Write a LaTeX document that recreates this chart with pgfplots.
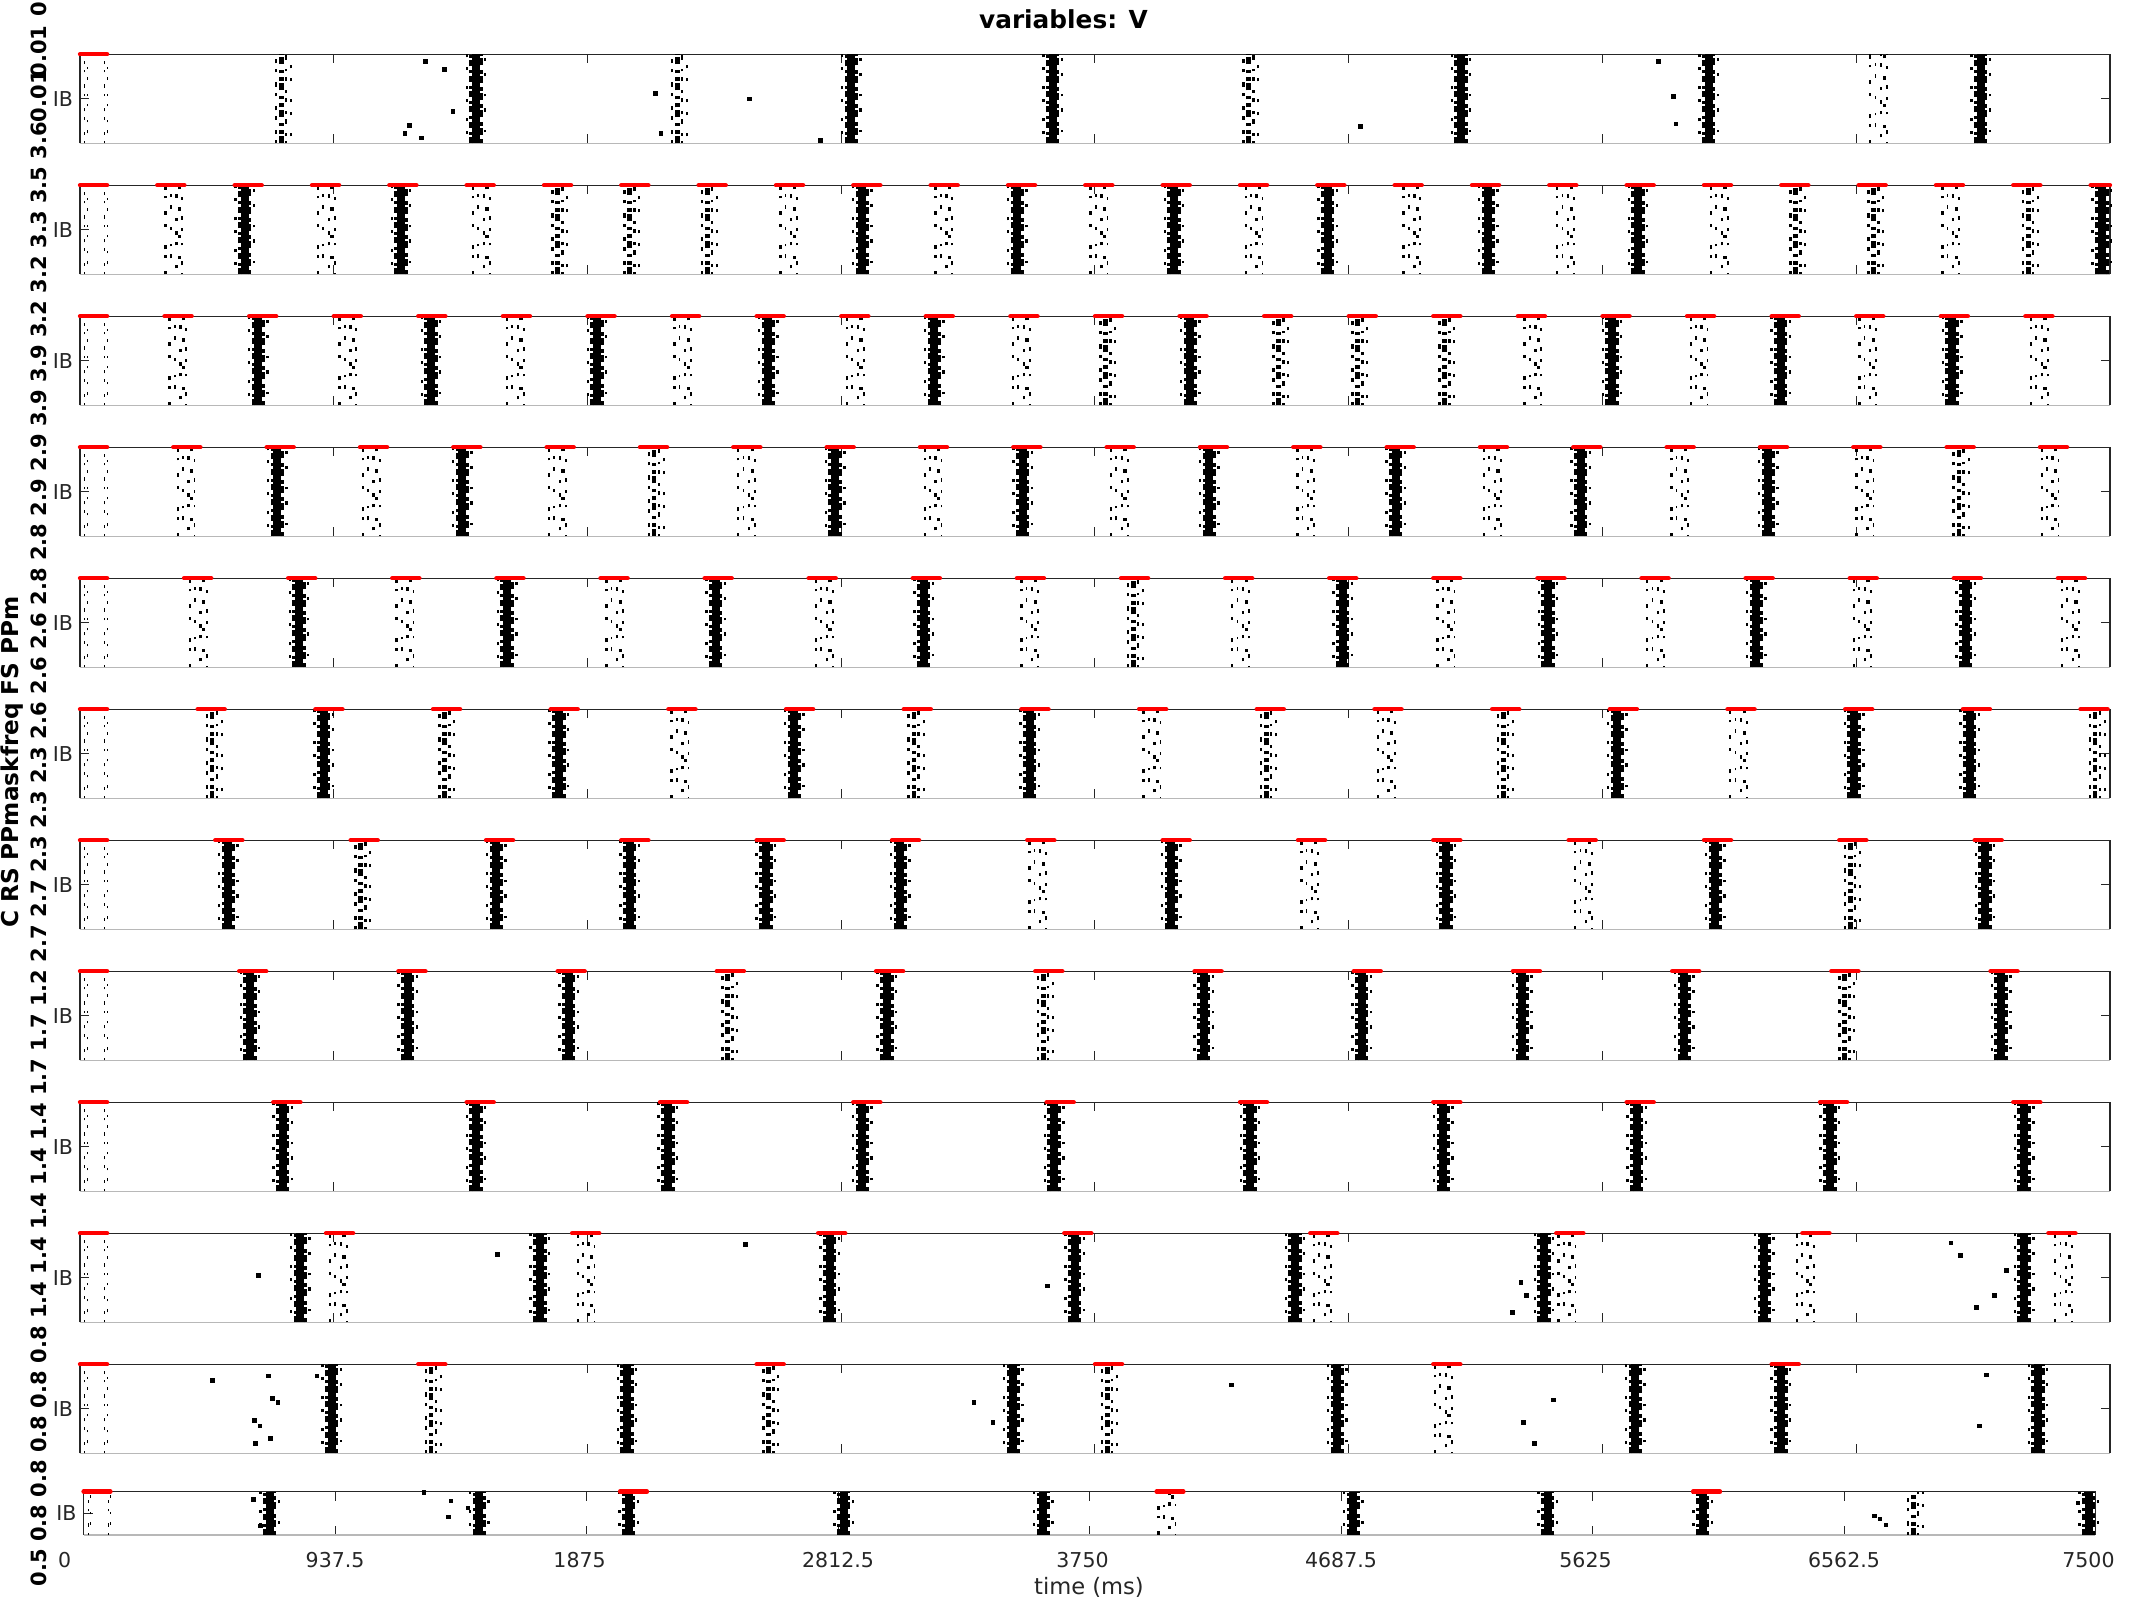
\documentclass[border=0pt]{standalone}
\usepackage{fontspec}
\setmainfont{DejaVu Sans}
\usepackage{pgfplots}
\usepackage{pgfplotstable}
\pgfplotsset{compat=1.18}
\definecolor{mgray}{RGB}{38,38,38}

% ---------- data (times in ms) ----------
\pgfplotstableread[row sep=\\]{t y\\18 1\\92 1\\}\Init
% panel 1
\pgfplotstableread[row sep=\\]{t y\\1463 1\\2850 1\\3594 1\\5102 1\\6017 1\\7022 1\\}\PaD
\pgfplotstableread[row sep=\\]{t y\\744 1\\2207 1\\4318 1\\}\PaM
\pgfplotstableread[row sep=\\]{t y\\6645 1\\}\PaS
\pgfplotstableread[row sep=\\]{t y\\1277 .92\\1347 .83\\1377 .36\\1217 .20\\1201 .11\\1262 .06\\2126 .56\\2146 .11\\2473 .50\\2735 .03\\4730 .19\\5831 .92\\5886 .53\\5896 .22\\}\PaX
\pgfplotstableread[row sep=\\]{t y\\50 1\\}\PaR
% panel 2
\pgfplotstableread[row sep=\\]{t y\\608 1\\1186 1\\2890 1\\3463 1\\4042 1\\4610 1\\5203 1\\5756 1\\7470 1\\}\PbD
\pgfplotstableread[row sep=\\]{t y\\1764 1\\2031 1\\2317 1\\6339 1\\6626 1\\7198 1\\}\PbM
\pgfplotstableread[row sep=\\]{t y\\347 1\\910 1\\1483 1\\2619 1\\3192 1\\3765 1\\4338 1\\4921 1\\5489 1\\6057 1\\6912 1\\}\PbS
\pgfplotstableread[row sep=\\]{t y\\50 1\\335.7 1\\621.4 1\\907.1 1\\1192.9 1\\1478.6 1\\1764.3 1\\2050 1\\2335.7 1\\2621.4 1\\2907.1 1\\3192.9 1\\3478.6 1\\3764.3 1\\4050 1\\4335.7 1\\4621.4 1\\4907.1 1\\5192.9 1\\5478.6 1\\5764.3 1\\6050 1\\6335.7 1\\6621.4 1\\6907.1 1\\7192.9 1\\}\PbR
\pgfplotstableread[row sep=\\]{t y\\7464.3 1\\}\PbRlast
% panel 3
\pgfplotstableread[row sep=\\]{t y\\659 1\\1297 1\\1910 1\\2543 1\\3157 1\\4102 1\\5660 1\\6283 1\\6917 1\\}\PcD
\pgfplotstableread[row sep=\\]{t y\\3790 1\\4429 1\\4720 1\\5042 1\\}\PcM
\pgfplotstableread[row sep=\\]{t y\\362 1\\990 1\\1609 1\\2227 1\\2865 1\\3478 1\\5368 1\\5982 1\\6605 1\\7239 1\\}\PcS
\pgfplotstableread[row sep=\\]{t y\\50 1\\362.5 1\\675 1\\987.5 1\\1300 1\\1612.5 1\\1925 1\\2237.5 1\\2550 1\\2862.5 1\\3175 1\\3487.5 1\\3800 1\\4112.5 1\\4425 1\\4737.5 1\\5050 1\\5362.5 1\\5675 1\\5987.5 1\\6300 1\\6612.5 1\\6925 1\\7237.5 1\\}\PcR
% panel 4
\pgfplotstableread[row sep=\\]{t y\\729 1\\1413 1\\2790 1\\3483 1\\4172 1\\4861 1\\5544 1\\6238 1\\}\PdD
\pgfplotstableread[row sep=\\]{t y\\2121 1\\6942 1\\}\PdM
\pgfplotstableread[row sep=\\]{t y\\392 1\\1076 1\\1764 1\\2463 1\\3152 1\\3840 1\\4529 1\\5218 1\\5911 1\\6595 1\\7279 1\\}\PdS
\pgfplotstableread[row sep=\\]{t y\\50 1\\394.8 1\\739.7 1\\1084.5 1\\1429.3 1\\1774.1 1\\2119 1\\2463.8 1\\2808.6 1\\3153.4 1\\3498.3 1\\3843.1 1\\4187.9 1\\4532.8 1\\4877.6 1\\5222.4 1\\5567.2 1\\5912.1 1\\6256.9 1\\6601.7 1\\6946.6 1\\7291.4 1\\}\PdR
% panel 5
\pgfplotstableread[row sep=\\]{t y\\809 1\\1578 1\\2348 1\\3117 1\\4665 1\\5424 1\\6193 1\\6967 1\\}\PeD
\pgfplotstableread[row sep=\\]{t y\\3891 1\\}\PeM
\pgfplotstableread[row sep=\\]{t y\\437 1\\1201 1\\1976 1\\2750 1\\3509 1\\4288 1\\5047 1\\5821 1\\6585 1\\7354 1\\}\PeS
\pgfplotstableread[row sep=\\]{t y\\50 1\\434.6 1\\819.2 1\\1203.8 1\\1588.5 1\\1973.1 1\\2357.7 1\\2742.3 1\\3126.9 1\\3511.5 1\\3896.2 1\\4280.8 1\\4665.4 1\\5050 1\\5434.6 1\\5819.2 1\\6203.8 1\\6588.5 1\\6973.1 1\\7357.7 1\\}\PeR
% panel 6
\pgfplotstableread[row sep=\\]{t y\\900 1\\1769 1\\2639 1\\3509 1\\5680 1\\6555 1\\6982 1\\}\PfD
\pgfplotstableread[row sep=\\]{t y\\488 1\\1347 1\\3081 1\\4383 1\\5258 1\\7445 1\\}\PfM
\pgfplotstableread[row sep=\\]{t y\\2217 1\\3961 1\\4826 1\\6128 1\\}\PfS
\pgfplotstableread[row sep=\\]{t y\\50 1\\484.8 1\\919.6 1\\1354.3 1\\1789.1 1\\2223.9 1\\2658.7 1\\3093.5 1\\3528.3 1\\3963 1\\4397.8 1\\4832.6 1\\5267.4 1\\5702.2 1\\6137 1\\6571.7 1\\7006.5 1\\7441.3 1\\}\PfR
% panel 7
\pgfplotstableread[row sep=\\]{t y\\548 1\\1538 1\\2031 1\\2534 1\\3031 1\\4032 1\\5047 1\\6042 1\\7038 1\\}\PgD
\pgfplotstableread[row sep=\\]{t y\\1036 1\\6540 1\\}\PgM
\pgfplotstableread[row sep=\\]{t y\\3539 1\\4544 1\\5555 1\\}\PgS
\pgfplotstableread[row sep=\\]{t y\\50 1\\550 1\\1050 1\\1550 1\\2050 1\\2550 1\\3050 1\\3550 1\\4050 1\\4550 1\\5050 1\\5550 1\\6050 1\\6550 1\\7050 1\\}\PgR
% panel 8
\pgfplotstableread[row sep=\\]{t y\\628 1\\1211 1\\1805 1\\2981 1\\4152 1\\4735 1\\5329 1\\5927 1\\7098 1\\}\PhD
\pgfplotstableread[row sep=\\]{t y\\2393 1\\3559 1\\6520 1\\}\PhM
\pgfplotstableread[row sep=\\]{t y\\50 1\\638.2 1\\1226.5 1\\1814.7 1\\2402.9 1\\2991.2 1\\3579.4 1\\4167.6 1\\4755.9 1\\5344.1 1\\5932.4 1\\6520.6 1\\7108.8 1\\}\PhR
% panel 9
\pgfplotstableread[row sep=\\]{t y\\749 1\\1463 1\\2172 1\\2890 1\\3599 1\\4323 1\\5037 1\\5751 1\\6465 1\\7183 1\\}\PiD
\pgfplotstableread[row sep=\\]{t y\\50 1\\764.3 1\\1478.6 1\\2192.9 1\\2907.1 1\\3621.4 1\\4335.7 1\\5050 1\\5764.3 1\\6478.6 1\\7192.9 1\\}\PiR
% panel 10
\pgfplotstableread[row sep=\\]{t y\\814 1\\1699 1\\2770 1\\3675 1\\4489 1\\5409 1\\6223 1\\7183 1\\}\PjD
\pgfplotstableread[row sep=\\]{t y\\955 1\\1870 1\\4590 1\\5494 1\\6374 1\\7329 1\\}\PjS
\pgfplotstableread[row sep=\\]{t y\\659 .53\\1542 .76\\2458 .875\\3574 .41\\5293 .11\\5344 .30\\5323 .45\\6912 .89\\6947 .75\\7073 .30\\7118 .58\\7007 .17\\}\PjX
\pgfplotstableread[row sep=\\]{t y\\50 1\\959.1 1\\1868.2 1\\2777.3 1\\3686.4 1\\4595.5 1\\5504.5 1\\6413.6 1\\7322.7 1\\}\PjR
% panel 11
\pgfplotstableread[row sep=\\]{t y\\930 1\\2021 1\\3448 1\\4645 1\\5746 1\\6284 1\\7234 1\\}\PkD
\pgfplotstableread[row sep=\\]{t y\\1297 1\\2544 1\\3795 1\\}\PkM
\pgfplotstableread[row sep=\\]{t y\\5037 1\\}\PkS
\pgfplotstableread[row sep=\\]{t y\\489 .82\\697 .87\\875 .87\\710 .62\\731 .57\\645 .37\\664 .31\\703 .17\\648 .11\\3303 .57\\3373 .35\\4253 .77\\5333 .35\\5444 .60\\5374 .11\\7043 .88\\7018 .31\\}\PkX
\pgfplotstableread[row sep=\\]{t y\\50 1\\1300 1\\2550 1\\3800 1\\5050 1\\6300 1\\}\PkR
% panel 12
\pgfplotstableread[row sep=\\]{t y\\694 1\\1475 1\\2032 1\\2833 1\\3578 1\\4733 1\\5458 1\\6036 1\\7475 1\\}\PlD
\pgfplotstableread[row sep=\\]{t y\\6821 1\\}\PlM
\pgfplotstableread[row sep=\\]{t y\\4039 1\\}\PlS
\pgfplotstableread[row sep=\\]{t y\\634 .82\\659 .21\\1369 .79\\1432 .63\\1361 .42\\1269 .98\\6676 .44\\6697 .37\\6719 .23\\7434 .74\\7465 .95\\}\PlX
\pgfplotstableread[row sep=\\]{t y\\50 1\\2050 1\\4050 1\\6050 1\\}\PlR

% ---------- drawing helpers ----------
\newcommand{\Frame}{%
  \draw[mgray, line width=0.6pt] (rel axis cs:0,0) -- (rel axis cs:0,1) -- (rel axis cs:1,1) -- (rel axis cs:1,0);
  \draw[black!28, line width=0.6pt] (rel axis cs:0,0) -- (rel axis cs:1,0);
}
\newcommand{\Initial}{%
  \addplot[ycomb, black, line width=0.5pt, dash pattern=on 1.2pt off 3pt on 1.6pt off 6pt] table {\Init};
  \addplot[ycomb, black, line width=0.5pt, xshift=1.2pt, dash pattern=on 1pt off 7pt on 1.4pt off 4pt, dash phase=3pt] table {\Init};
}
\newcommand{\Dense}[1]{%
  \addplot[ycomb, black, line width=4pt] table {#1};
  \addplot[ycomb, black, line width=1.5pt, xshift=-2.6pt, dash pattern=on 3pt off 1.2pt on 1.5pt off 2pt] table {#1};
  \addplot[ycomb, black, line width=1.5pt, xshift=2.6pt, dash pattern=on 2pt off 2.2pt on 3.5pt off 1pt] table {#1};
  \addplot[ycomb, black, line width=1.2pt, xshift=4.6pt, dash pattern=on 1.6pt off 6pt on 1.2pt off 9pt, dash phase=2pt] table {#1};
  \addplot[ycomb, black, line width=1.2pt, xshift=-4.6pt, dash pattern=on 1.6pt off 8pt on 1.4pt off 5pt, dash phase=5pt] table {#1};
}
\newcommand{\Medium}[1]{%
  \addplot[ycomb, black, line width=2.4pt, dash pattern=on 3.5pt off 1.2pt on 2pt off 2pt on 1.5pt off 3pt] table {#1};
  \addplot[ycomb, black, line width=1.3pt, xshift=-2.6pt, dash pattern=on 1.6pt off 3pt on 2.2pt off 5pt] table {#1};
  \addplot[ycomb, black, line width=1.3pt, xshift=2.4pt, dash pattern=on 2.2pt off 2.6pt on 1.4pt off 4.5pt, dash phase=1pt] table {#1};
  \addplot[ycomb, black, line width=1pt, xshift=4.8pt, dash pattern=on 1.5pt off 5pt on 1.5pt off 9pt, dash phase=3pt] table {#1};
}
\newcommand{\Sparse}[1]{%
  \addplot[ycomb, black, line width=1.2pt, xshift=-4.2pt, dash pattern=on 1.8pt off 6.5pt on 1.2pt off 3pt on 2.2pt off 9pt on 1.5pt off 4.5pt] table {#1};
  \addplot[ycomb, black, line width=0.8pt, xshift=-1.6pt, dash pattern=on 1.5pt off 9pt on 2pt off 4pt on 1.2pt off 7pt, dash phase=2.5pt] table {#1};
  \addplot[ycomb, black, line width=1.2pt, xshift=1.2pt, dash pattern=on 2pt off 5pt on 1.5pt off 10pt on 1.8pt off 3.5pt, dash phase=4pt] table {#1};
  \addplot[ycomb, black, line width=0.9pt, xshift=4.2pt, dash pattern=on 1.5pt off 4pt on 2pt off 8pt on 1.2pt off 6pt, dash phase=1pt] table {#1};
  \addplot[ycomb, black, line width=1.6pt, xshift=2.8pt, dash pattern=on 1.6pt off 12pt on 1.6pt off 9pt, dash phase=6pt] table {#1};
}
\newcommand{\Stray}[1]{%
  \addplot[only marks, mark=square*, mark size=0.9pt, black] table {#1};
}
\newcommand{\Red}[2]{%
  \addplot[only marks, mark=-, mark size=#2, mark options={draw=red, line width=2.2pt, line cap=round}] table {#1};
}

\pgfplotsset{
  rast/.style={
    scale only axis, anchor=north west, width=1015pt, height=44.5pt,
    xmin=0, xmax=7500, ymin=0, ymax=1, clip=false,
    xtick={0,937.5,1875,2812.5,3750,4687.5,5625,6562.5,7500},
    xticklabels={},
    ytick={0.5}, yticklabels={IB},
    tick align=inside, major tick length=4.5pt,
    tick style={mgray, line width=0.5pt},
    axis line style={draw=none},
    yticklabel style={font=\fontsize{10.25}{12}\selectfont, text=mgray},
    xticklabel style={font=\fontsize{10.25}{12}\selectfont, text=mgray},
  },
}

\begin{document}
\begin{tikzpicture}
\path[use as bounding box] (0,0) rectangle (1066.5pt,800pt);

% panel 1
\begin{axis}[rast, at={(40pt,772.85pt)}]
\Frame \Initial
\Dense{\PaD} \Medium{\PaM} \Sparse{\PaS} \Stray{\PaX}
\Red{\PaR}{6.77pt}
\end{axis}
% panel 2
\begin{axis}[rast, at={(40pt,707.35pt)}]
\Frame \Initial
\Dense{\PbD} \Medium{\PbM} \Sparse{\PbS}
\Red{\PbR}{6.77pt} \Red{\PbRlast}{4.84pt}
\end{axis}
% panel 3
\begin{axis}[rast, at={(40pt,641.85pt)}]
\Frame \Initial
\Dense{\PcD} \Medium{\PcM} \Sparse{\PcS}
\Red{\PcR}{6.77pt}
\end{axis}
% panel 4
\begin{axis}[rast, at={(40pt,576.35pt)}]
\Frame \Initial
\Dense{\PdD} \Medium{\PdM} \Sparse{\PdS}
\Red{\PdR}{6.77pt}
\end{axis}
% panel 5
\begin{axis}[rast, at={(40pt,510.85pt)}]
\Frame \Initial
\Dense{\PeD} \Medium{\PeM} \Sparse{\PeS}
\Red{\PeR}{6.77pt}
\end{axis}
% panel 6
\begin{axis}[rast, at={(40pt,445.35pt)}]
\Frame \Initial
\Dense{\PfD} \Medium{\PfM} \Sparse{\PfS}
\Red{\PfR}{6.77pt}
\end{axis}
% panel 7
\begin{axis}[rast, at={(40pt,379.85pt)}]
\Frame \Initial
\Dense{\PgD} \Medium{\PgM} \Sparse{\PgS}
\Red{\PgR}{6.77pt}
\end{axis}
% panel 8
\begin{axis}[rast, at={(40pt,314.35pt)}]
\Frame \Initial
\Dense{\PhD} \Medium{\PhM}
\Red{\PhR}{6.77pt}
\end{axis}
% panel 9
\begin{axis}[rast, at={(40pt,248.85pt)}]
\Frame \Initial
\Dense{\PiD}
\Red{\PiR}{6.77pt}
\end{axis}
% panel 10
\begin{axis}[rast, at={(40pt,183.35pt)}]
\Frame \Initial
\Dense{\PjD} \Sparse{\PjS} \Stray{\PjX}
\Red{\PjR}{6.77pt}
\end{axis}
% panel 11
\begin{axis}[rast, at={(40pt,117.85pt)}]
\Frame \Initial
\Dense{\PkD} \Medium{\PkM} \Sparse{\PkS} \Stray{\PkX}
\Red{\PkR}{6.77pt}
\end{axis}
% panel 12
\begin{axis}[rast, at={(41.8pt,54.15pt)}, width=1006pt, height=21.65pt,
  xticklabel style={yshift=-5pt},
  xticklabels={\makebox[0pt]{0\hspace{19pt}},\makebox[0pt]{937.5},\makebox[0pt]{1875\hspace{7pt}},\makebox[0pt]{2812.5},\makebox[0pt]{3750\hspace{7pt}},\makebox[0pt]{4687.5},\makebox[0pt]{5625\hspace{7pt}},\makebox[0pt]{6562.5},\makebox[0pt]{7500\hspace{7pt}}}]
\Frame \Initial
\Dense{\PlD} \Medium{\PlM} \Sparse{\PlS} \Stray{\PlX}
\Red{\PlR}{6.71pt}
\end{axis}

% titles and labels
\node[font=\bfseries\fontsize{12.4}{14}\selectfont] at (531.75pt,790.25pt) {variables: V};
\node[font=\fontsize{11.3}{13}\selectfont, text=mgray] at (544.5pt,6.5pt) {time (ms)};
\node[rotate=90, font=\bfseries\fontsize{11.6}{13}\selectfont] at (6.2pt,419pt) {C RS PPmaskfreq FS PPm};
\foreach \lab [count=\i] in {0.5,0.8,0.8,0.8,0.8,0.8,1.4,1.4,1.4,1.4,1.4,1.7,1.7,1.2,2.7,2.7,2.3,2.3,2.3,2.6,2.6,2.6,2.8,2.8,2.9,2.9,3.9,3.9,3.2,3.2,3.3,3.5,3.6,0.01,0.01}
  {\node[rotate=90, font=\bfseries\fontsize{10.5}{12}\selectfont] at (19.5pt,{16pt+(\i-1)*22.3pt}) {\lab};}
\node[rotate=90, font=\bfseries\fontsize{10.5}{12}\selectfont, inner sep=0pt] at (19.5pt,795.5pt) {0};
\end{tikzpicture}
\end{document}
